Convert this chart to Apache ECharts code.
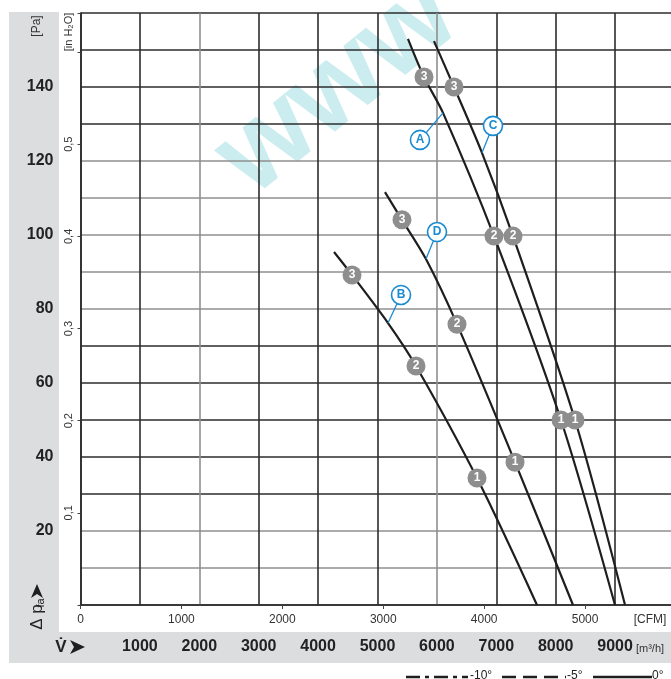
<!DOCTYPE html>
<html>
<head>
<meta charset="utf-8">
<script src="https://cdn.jsdelivr.net/npm/echarts@6/dist/echarts.min.js"></script>
<style>
  html, body { margin: 0; padding: 0; background: #fff; }
  #chart { width: 671px; height: 679px; }
</style>
</head>
<body>
<div id="chart"></div>
<script>
// Fan characteristic curves: static pressure [Pa] over air flow [m³/h]
const curveA = [[5513, 153.0], [5783, 142.7], [6103, 133.0], [6961, 99.7], [8089, 50.0], [8998, 0]];
const curveB = [[4268, 95.4], [4571, 89.2], [5177, 76.2], [5648, 64.6], [6675, 34.3], [7685, 0]];
const curveC = [[5951, 152.4], [6288, 140.0], [6759, 122.2], [7281, 99.7], [8325, 50.0], [9167, 0]];
const curveD = [[5126, 111.6], [5412, 104.1], [5816, 93.5], [6338, 75.9], [7315, 38.6], [8291, 0]];

// Operating points 1..3 on each curve: [flow, pressure, number]
const pointsA = [[5783, 142.7, 3], [6961, 99.7, 2], [8089, 50.0, 1]];
const pointsB = [[4571, 89.2, 3], [5648, 64.6, 2], [6675, 34.3, 1]];
const pointsC = [[6288, 140.0, 3], [7281, 99.7, 2], [8325, 50.0, 1]];
const pointsD = [[5412, 104.1, 3], [6338, 75.9, 2], [7315, 38.6, 1]];

// Curve tags and where their leader lines touch the curves
const tagLetters = ['A', 'B', 'C', 'D'];
const tagFlow = [5715, 5396, 6944, 6002];
const tagPressure = [125.7, 83.8, 129.5, 100.8];
const tagCurveFlow = [6103, 5177, 6759, 5816];
const tagCurvePressure = [133.0, 76.2, 122.2, 93.5];

// Axis ranges and unit conversions
const flowMax = 10000;            // m³/h
const pressureMax = 160;          // Pa
const m3hPerCfm = 1.699;
const paPerInH2O = 249.0889;

// Legend entries (installation angle)
const legendLabels = ['-10°', '-5°', '0°'];

const FONT = "'Liberation Sans Narrow', 'Liberation Sans', Arial, sans-serif";
const DARK = '#2c2c2c';
const GRAY = '#8f8f8f';
const BLUE = '#1a8bd1';

// Horizontal grid lines 0..160 Pa (step 10), vertical grid lines 0..10000 m³/h (step 1000)
const hLineColors = [DARK, GRAY, GRAY, DARK, DARK, DARK, DARK, DARK, GRAY, GRAY, GRAY, GRAY, GRAY, DARK, DARK, DARK, DARK];
const vLineColors = [DARK, DARK, GRAY, DARK, DARK, DARK, GRAY, DARK, DARK, DARK, DARK];

const chart = echarts.init(document.getElementById('chart'), null, { renderer: 'canvas' });

function curveSeries(data) {
  return {
    type: 'line', xAxisIndex: 0, yAxisIndex: 0, data: data,
    smooth: 0.3, symbol: 'none', z: 3,
    lineStyle: { color: '#1e1e1e', width: 2.2 }
  };
}
function pointSeries(data) {
  return {
    type: 'scatter', xAxisIndex: 0, yAxisIndex: 0, data: data, z: 5,
    symbol: 'circle', symbolSize: 19,
    itemStyle: { color: '#8e8e8e', opacity: 1 },
    label: { show: true, position: 'inside', formatter: p => String(p.value[2]),
             color: '#fff', fontWeight: 'bold', fontSize: 12, fontFamily: FONT }
  };
}

const leaderSeries = tagLetters.map((t, i) => ({
  type: 'line', xAxisIndex: 0, yAxisIndex: 0, symbol: 'none', z: 4,
  data: [[tagFlow[i], tagPressure[i]], [tagCurveFlow[i], tagCurvePressure[i]]],
  lineStyle: { color: BLUE, width: 1.3 }
}));

const tagSeries = {
  type: 'scatter', xAxisIndex: 0, yAxisIndex: 0, z: 6,
  data: tagLetters.map((t, i) => [tagFlow[i], tagPressure[i], t]),
  symbol: 'circle', symbolSize: 19,
  itemStyle: { color: '#fff', borderColor: BLUE, borderWidth: 1.6, opacity: 1 },
  label: { show: true, position: 'inside', formatter: p => p.value[2],
           color: BLUE, fontWeight: 'bold', fontSize: 12, fontFamily: FONT }
};

// Legend line samples along the bottom edge
const legendY = 677;
const legendItems = [
  { x1: 406, x2: 468, dash: [14, 5, 4, 5], tx: 470 },
  { x1: 502, x2: 566, dash: [14, 7], tx: 567 },
  { x1: 593, x2: 652, dash: null, tx: 652 }
];
const legendGraphics = [];
legendItems.forEach((it, i) => {
  legendGraphics.push({
    type: 'line', shape: { x1: it.x1, y1: legendY, x2: it.x2, y2: legendY },
    style: { stroke: '#1e1e1e', lineWidth: 2.4, lineDash: it.dash }
  });
  legendGraphics.push({
    type: 'text', x: it.tx, y: legendY - 7,
    style: { text: legendLabels[i], font: '12px ' + FONT, fill: '#222', textAlign: 'left', textVerticalAlign: 'top' }
  });
});

const option = {
  backgroundColor: '#fff',
  animation: false,
  grid: { left: 80.5, top: 13, width: 594, height: 592, containLabel: false, outerBoundsMode: 'none' },
  xAxis: [
    { // m³/h
      type: 'value', min: 0, max: flowMax, interval: 1000, position: 'bottom',
      axisLine: { show: true, onZero: false, lineStyle: { color: DARK, width: 1.6 } },
      axisTick: { show: false },
      splitLine: { show: true, lineStyle: { color: vLineColors, width: 1.6 } },
      axisLabel: { margin: 34, fontFamily: FONT, fontWeight: 'bold', fontSize: 16, color: '#222',
                   formatter: v => (v > 0 && v < flowMax) ? String(v) : '' }
    },
    { // CFM
      type: 'value', min: 0, max: flowMax / m3hPerCfm, interval: 1000, position: 'bottom',
      axisLine: { show: false }, splitLine: { show: false },
      axisTick: { show: true, length: 4, inside: false, lineStyle: { color: '#444', width: 1 } },
      axisLabel: { margin: 9, fontFamily: FONT, fontSize: 12, color: '#333',
                   formatter: v => (v % 1000 === 0) ? String(v) : '' }
    }
  ],
  yAxis: [
    { // Pa
      type: 'value', min: 0, max: pressureMax, interval: 10, position: 'left',
      axisLine: { show: true, onZero: false, lineStyle: { color: DARK, width: 1.6 } },
      axisTick: { show: false },
      splitLine: { show: true, lineStyle: { color: hLineColors, width: 1.6 } },
      axisLabel: { margin: 27, fontFamily: FONT, fontWeight: 'bold', fontSize: 16, color: '#222',
                   formatter: v => (v % 20 === 0 && v > 0 && v < pressureMax) ? String(v) : '' }
    },
    { // in H2O
      type: 'value', min: 0, max: pressureMax / paPerInH2O, interval: 0.1, position: 'left',
      axisLine: { show: false }, splitLine: { show: false },
      axisTick: { show: true, length: 3, lineStyle: { color: '#444', width: 1 } },
      axisLabel: { margin: 6, rotate: 90, fontFamily: FONT, fontSize: 11, color: '#333',
                   formatter: v => {
                     const r = Math.round(v * 10);
                     if (Math.abs(v * 10 - r) > 1e-6 || r < 1 || r > 5) return '';
                     return '0,' + r;
                   } }
    }
  ],
  graphic: [
    // grey bands behind the scales
    { type: 'rect', z: -10, shape: { x: 9, y: 12, width: 50, height: 651 }, style: { fill: '#dcdddf' } },
    { type: 'rect', z: -10, shape: { x: 9, y: 632, width: 662, height: 31 }, style: { fill: '#dcdddf' } },
    // watermark
    { type: 'text', z: -5, x: 338, y: 88, rotation: 0.68,
      style: { text: 'www', font: 'bold 116px ' + FONT, fill: 'rgba(112,206,212,0.36)',
               textAlign: 'center', textVerticalAlign: 'middle' } },
    // unit captions
    { type: 'text', x: 37, y: 26, rotation: Math.PI / 2,
      style: { text: '[Pa]', font: '12px ' + FONT, fill: '#333', textAlign: 'center', textVerticalAlign: 'middle' } },
    { type: 'text', x: 69, y: 32, rotation: Math.PI / 2,
      style: { text: '[in H₂O]', font: '11px ' + FONT, fill: '#333', textAlign: 'center', textVerticalAlign: 'middle' } },
    { type: 'text', x: 650, y: 620,
      style: { text: '[CFM]', font: '12px ' + FONT, fill: '#333', textAlign: 'center', textVerticalAlign: 'middle' } },
    { type: 'text', x: 650, y: 649,
      style: { text: '[m³/h]', font: '11px ' + FONT, fill: '#333', textAlign: 'center', textVerticalAlign: 'middle' } },
    // quantity symbols
    { type: 'text', x: 37, y: 617, rotation: Math.PI / 2,
      style: { text: 'Δ p', font: '17px ' + FONT, fill: '#222', textAlign: 'center', textVerticalAlign: 'middle' } },
    { type: 'text', x: 41, y: 603, rotation: Math.PI / 2,
      style: { text: 'fa', font: '11px ' + FONT, fill: '#222', textAlign: 'center', textVerticalAlign: 'middle' } },
    { type: 'polygon', shape: { points: [[37, 584], [43, 598], [37, 594], [31, 598]] }, style: { fill: '#1e1e1e' } },
    { type: 'text', x: 61, y: 647,
      style: { text: 'V̇', font: 'bold 17px ' + FONT, fill: '#222', textAlign: 'center', textVerticalAlign: 'middle' } },
    { type: 'polygon', shape: { points: [[85, 647], [70, 640], [74, 647], [70, 654]] }, style: { fill: '#1e1e1e' } }
  ].concat(legendGraphics),
  series: [
    curveSeries(curveA), curveSeries(curveB), curveSeries(curveC), curveSeries(curveD),
    ...leaderSeries,
    pointSeries(pointsA), pointSeries(pointsB), pointSeries(pointsC), pointSeries(pointsD),
    tagSeries
  ]
};

chart.setOption(option);
</script>
</body>
</html>
